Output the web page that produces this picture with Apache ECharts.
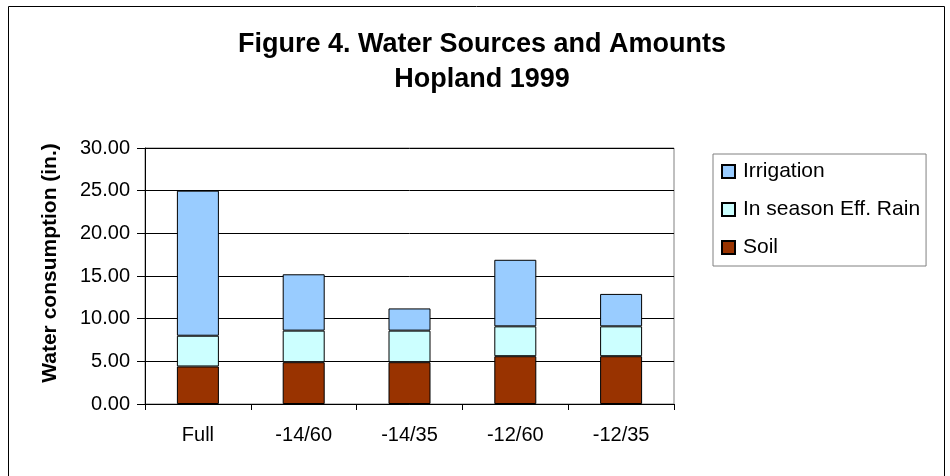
<!DOCTYPE html>
<html>
<head>
<meta charset="utf-8">
<script src="https://cdn.jsdelivr.net/npm/echarts@6/dist/echarts.min.js"></script>
<style>
  html, body { margin: 0; padding: 0; background: #fff; }
  #chart { width: 950px; height: 476px; }
</style>
</head>
<body>
<div id="chart"></div>
<script>
var categories = ["Full", "-14/60", "-14/35", "-12/60", "-12/35"];
var soil = [4.4, 4.9, 4.9, 5.6, 5.6];
var rain = [3.6, 3.7, 3.7, 3.5, 3.5];
var irrigation = [17.0, 6.6, 2.6, 7.8, 3.8];

var chart = echarts.init(document.getElementById("chart"));
var font = "Liberation Sans, Arial, sans-serif";

function bar(name, data, color) {
  return {
    name: name,
    type: "bar",
    stack: "water",
    data: data,
    barWidth: 42,
    itemStyle: { color: color, borderColor: "#000", borderWidth: 1 }
  };
}

chart.setOption({
  backgroundColor: "#fff",
  animation: false,
  title: {
    text: "Figure 4. Water Sources and Amounts\nHopland 1999",
    left: 477,
    top: 22,
    textAlign: "center",
    textStyle: { fontFamily: font, fontSize: 27, fontWeight: "bold", color: "#000", lineHeight: 35 }
  },
  graphic: [
    {
      type: "rect",
      shape: { x: 8.5, y: 6.5, width: 936, height: 490 },
      style: { fill: "none", stroke: "#000", lineWidth: 1 },
      silent: true
    },
    {
      type: "text",
      x: 50, y: 263,
      rotation: Math.PI / 2,
      style: {
        text: "Water consumption (in.)",
        font: "bold 21px " + font,
        fill: "#000",
        align: "center",
        verticalAlign: "middle"
      },
      silent: true
    }
  ],
  grid: {
    left: 145, right: 276, top: 148, bottom: 72,
    show: true, borderColor: "#808080", borderWidth: 1
  },
  legend: {
    orient: "vertical",
    left: 713, top: 154,
    padding: [7, 6, 8, 8],
    itemGap: 17,
    itemWidth: 13, itemHeight: 13,
    borderColor: "#808080", borderWidth: 1,
    data: ["Irrigation", "In season Eff. Rain", "Soil"],
    textStyle: { fontFamily: font, fontSize: 21, color: "#000", padding: [0, 0, 0, 3] },
    icon: "rect"
  },
  xAxis: {
    type: "category",
    data: categories,
    axisLine: { lineStyle: { color: "#000" } },
    axisTick: { show: true, length: 6, lineStyle: { color: "#000" } },
    axisLabel: { fontFamily: font, fontSize: 20, color: "#000", margin: 21 },
    splitLine: { show: false }
  },
  yAxis: {
    type: "value",
    min: 0, max: 30, interval: 5,
    axisLine: { show: true, lineStyle: { color: "#000" } },
    axisTick: { show: true, length: 8, lineStyle: { color: "#000" } },
    axisLabel: {
      fontFamily: font, fontSize: 20, color: "#000", margin: 15,
      formatter: function (v) { return v.toFixed(2); }
    },
    splitLine: { show: true, lineStyle: { color: "#000", width: 1 } }
  },
  series: [
    bar("Soil", soil, "#993300"),
    bar("In season Eff. Rain", rain, "#CCFFFF"),
    bar("Irrigation", irrigation, "#99CCFF")
  ]
});
</script>
</body>
</html>
